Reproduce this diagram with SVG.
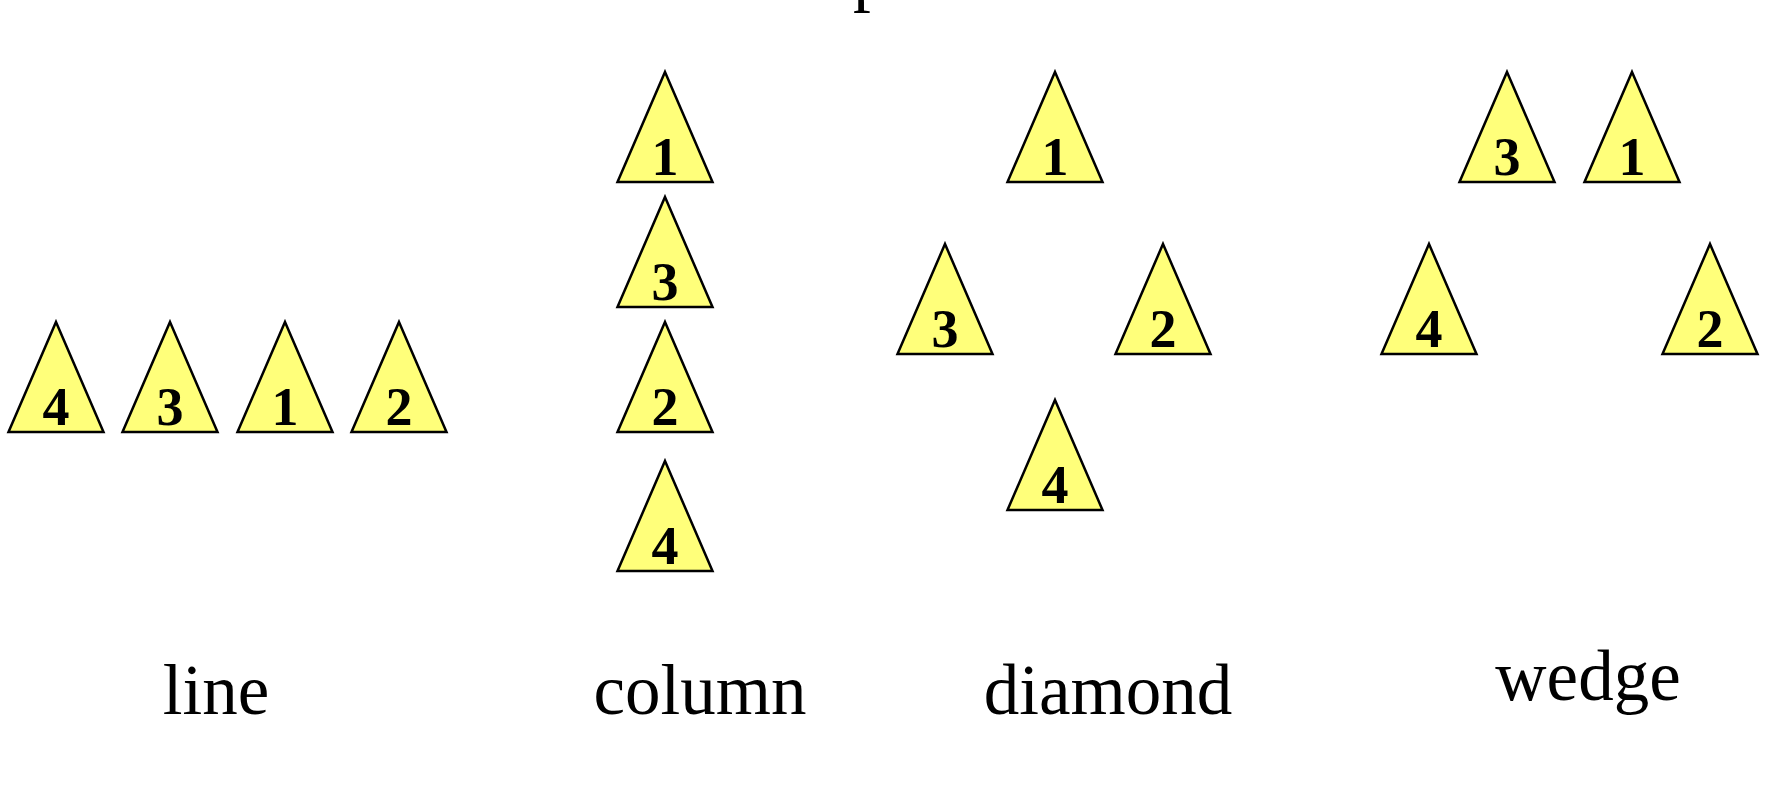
<svg xmlns="http://www.w3.org/2000/svg" width="1792" height="800" viewBox="0 0 1792 800">
<style>
.tri{fill:#ffff7a;stroke:#000;stroke-width:2.5;stroke-linejoin:miter}
.num{font-family:"Liberation Serif","Times New Roman",serif;font-weight:bold;font-size:54px;text-anchor:middle;fill:#000}
.lbl{font-family:"Liberation Serif","Times New Roman",serif;font-size:71px;text-anchor:middle;fill:#000}
</style>
<defs>
<path id="t" class="tri" d="M0,-110 L47.5,0 L-47.5,0 Z"/>
</defs>
<rect width="1792" height="800" fill="#fff"/>
<text class="lbl" x="853" y="-2" style="text-anchor:start">p</text>
<g id="line">
<g id="line-4"><use href="#t" x="56" y="432"/><text class="num" x="56" y="425">4</text></g>
<g id="line-3"><use href="#t" x="170" y="432"/><text class="num" x="170" y="425">3</text></g>
<g id="line-1"><use href="#t" x="285" y="432"/><text class="num" x="285" y="425">1</text></g>
<g id="line-2"><use href="#t" x="399" y="432"/><text class="num" x="399" y="425">2</text></g>
<text class="lbl" x="216" y="714">line</text>
</g>
<g id="column">
<g id="col-1"><use href="#t" x="665" y="182"/><text class="num" x="665" y="175">1</text></g>
<g id="col-3"><use href="#t" x="665" y="307"/><text class="num" x="665" y="300">3</text></g>
<g id="col-2"><use href="#t" x="665" y="432"/><text class="num" x="665" y="425">2</text></g>
<g id="col-4"><use href="#t" x="665" y="571"/><text class="num" x="665" y="564">4</text></g>
<text class="lbl" x="700" y="714">column</text>
</g>
<g id="diamond">
<g id="dia-1"><use href="#t" x="1055" y="182"/><text class="num" x="1055" y="175">1</text></g>
<g id="dia-3"><use href="#t" x="945" y="354"/><text class="num" x="945" y="347">3</text></g>
<g id="dia-2"><use href="#t" x="1163" y="354"/><text class="num" x="1163" y="347">2</text></g>
<g id="dia-4"><use href="#t" x="1055" y="510"/><text class="num" x="1055" y="503">4</text></g>
<text class="lbl" x="1108" y="714">diamond</text>
</g>
<g id="wedge">
<g id="wed-3"><use href="#t" x="1507" y="182"/><text class="num" x="1507" y="175">3</text></g>
<g id="wed-1"><use href="#t" x="1632" y="182"/><text class="num" x="1632" y="175">1</text></g>
<g id="wed-4"><use href="#t" x="1429" y="354"/><text class="num" x="1429" y="347">4</text></g>
<g id="wed-2"><use href="#t" x="1710" y="354"/><text class="num" x="1710" y="347">2</text></g>
<text class="lbl" x="1588" y="700">wedge</text>
</g>
<g id="connectors"/>
</svg>
